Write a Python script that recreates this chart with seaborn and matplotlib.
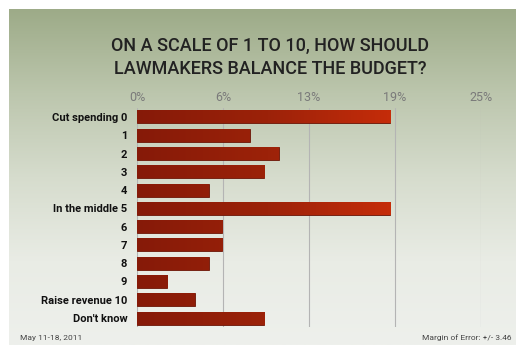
import numpy as np
import pandas as pd
import matplotlib
matplotlib.use("Agg")
import matplotlib.pyplot as plt
import seaborn as sns
from matplotlib.colors import LinearSegmentedColormap

categories = ["Cut spending 0", "1", "2", "3", "4", "In the middle 5",
              "6", "7", "8", "9", "Raise revenue 10", "Don't know"]
values = [18.4, 8.2, 10.3, 9.25, 5.2, 18.4, 6.2, 6.2, 5.2, 2.2, 4.2, 9.25]
tick_values = [0, 6.25, 12.5, 18.75, 25]
tick_labels = ["0%", "6%", "13%", "19%", "25%"]
title = "ON A SCALE OF 1 TO 10, HOW SHOULD\nLAWMAKERS BALANCE THE BUDGET?"

sns.set_theme(style="white")
plt.rcParams["font.family"] = ["Roboto", "DejaVu Sans"]

W, H = 516, 345
fig = plt.figure(figsize=(W / 100, H / 100), dpi=100)
fig.patch.set_facecolor("white")

# background gradient panel
bg = fig.add_axes([9 / W, 0, 1 - 9 / W, 1 - 9 / H])
bg.axis("off")
bg_cmap = LinearSegmentedColormap.from_list(
    "bg", ["#9dab88", "#bcc6ad", "#d6dccd", "#e9ece5", "#eef0ec"])
grad = np.linspace(0, 1, 256).reshape(-1, 1)
bg.imshow(grad, aspect="auto", cmap=bg_cmap, extent=[0, 1, 0, 1], origin="upper")

ax = fig.add_axes([137 / W, 1 - 327.2 / H, 344 / W, (327.2 - 107.8) / H])
ax.patch.set_alpha(0)
df = pd.DataFrame({"category": categories, "value": values})
sns.barplot(data=df, x="value", y="category", ax=ax, color="#a02209",
            width=0.71, saturation=1, edgecolor="#6a1405", linewidth=0.6,
            zorder=3)

# horizontal gradient on bars
bar_cmap = LinearSegmentedColormap.from_list("bar", ["#861a08", "#9c2209", "#c82d0a"])
hgrad = np.linspace(0, 1, 256).reshape(1, -1)
for p in list(ax.patches):
    im = ax.imshow(hgrad, aspect="auto", cmap=bar_cmap,
                   extent=[0, 19, 11.5, -0.5], zorder=3.5)
    im.set_clip_path(p)

ax.set_xlim(0, 25)
ax.set_ylim(11.5, -0.5)
ax.set_xticks(tick_values)
ax.set_xticklabels(tick_labels)
ax.xaxis.tick_top()
ax.tick_params(axis="x", length=0, pad=3, labelsize=9, labelcolor="#7a7a7a")
ax.tick_params(axis="y", length=0, pad=7, labelsize=8)
for lab in ax.get_yticklabels():
    lab.set_fontweight("bold")
    lab.set_color("#111111")
ax.grid(axis="x", color="#b4b4b4", linewidth=0.8)
ax.grid(axis="y", visible=False)
ax.set_axisbelow(True)
for s in ax.spines.values():
    s.set_visible(False)
ax.set_xlabel("")
ax.set_ylabel("")

fig.text(270 / W, 1 - 57.5 / H, title, ha="center", va="center",
         fontsize=13, fontweight="medium", color="#222222", linespacing=1.35)
fig.text(20 / W, 1 - 338 / H, "May 11-18, 2011", fontsize=6, color="#444444",
         va="center", ha="left")
fig.text(512 / W, 1 - 338 / H, "Margin of Error: +/- 3.46", fontsize=6,
         color="#444444", va="center", ha="right")

fig.savefig("out.png", dpi=100)
